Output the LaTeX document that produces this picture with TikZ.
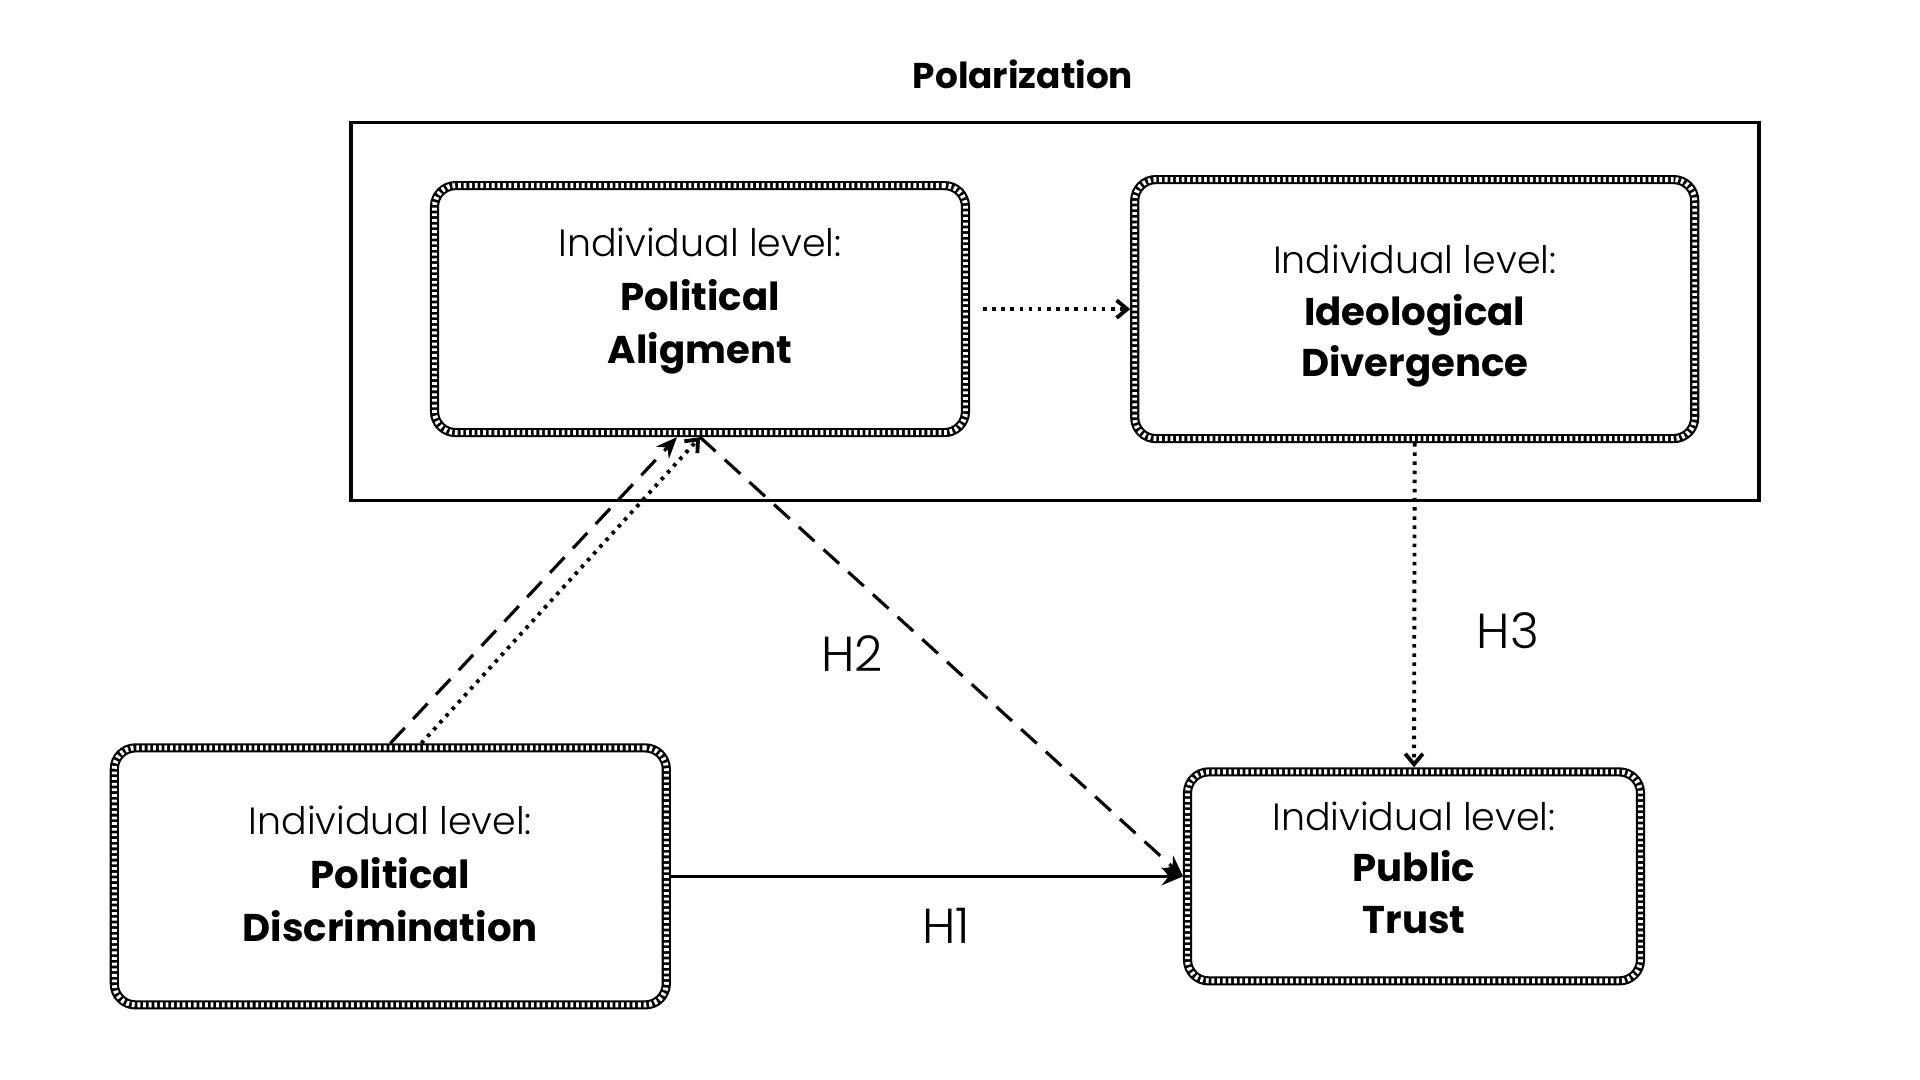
\documentclass[tikz,border=0pt]{standalone}
\usepackage{fontspec}
\setmainfont{Poppins}
\newfontfamily\lightfont{Poppins Light}
\usetikzlibrary{arrows.meta, positioning, calc}

\newcommand{\lvl}{{\lightfont\fontsize{10.8}{15.2}\selectfont Individual level:}}

\tikzset{
  ropebox/.style={rectangle, rounded corners=6pt, draw=black, line width=2.6pt,
    postaction={draw=white, line width=1.4pt, dash pattern=on 0.8pt off 0.8pt},
    inner sep=0pt},
  boxtext/.style={align=center, font=\fontsize{11}{15.2}\selectfont, inner sep=0pt},
  tighttext/.style={align=center, font=\fontsize{11}{14.7}\selectfont, inner sep=0pt},
  hlabel/.style={font=\lightfont\fontsize{14}{17}\selectfont},
  solidarrow/.style={line width=0.9pt, -{Stealth[length=6pt,width=5pt]}},
  dashedarrow/.style={line width=0.9pt, dash pattern=on 6pt off 3.5pt, -{Stealth[length=6pt,width=5pt]}},
  dottedarrow/.style={line width=1.1pt, dash pattern=on 1pt off 1.6pt, -{Straight Barb[length=3pt,width=5pt]}},
}

\begin{document}
\begin{tikzpicture}
  \useasboundingbox (0,0) rectangle (19.2,10.8);

  % polarization frame
  \node[font=\bfseries\fontsize{10.2}{12}\selectfont] (title) at (10.23,10.06) {Polarization};
  \node[draw, line width=0.9pt, minimum width=14.08cm, minimum height=3.78cm, inner sep=0pt] (frame) at (10.55,7.684) {};

  % boxes
  \node[ropebox, minimum width=5.31cm, minimum height=2.47cm] (align) at (7.00,7.709) {};
  \node[ropebox, minimum width=5.60cm, minimum height=2.59cm] (diverg) at (14.147,7.709) {};
  \node[ropebox, minimum width=5.52cm, minimum height=2.57cm] (discrim) at (3.903,2.036) {};
  \node[ropebox, minimum width=4.53cm, minimum height=2.09cm] (trust) at (14.14,2.036) {};

  % box texts
  \node[boxtext] (aligntxt) at ($(align.center)+(0,0.08)$) {\lvl\\\textbf{Political}\\\textbf{Aligment}};
  \node[tighttext] (divergtxt) at ($(diverg.center)+(0,-0.07)$) {\lvl\\\textbf{Ideological}\\\textbf{Divergence}};
  \node[boxtext] (discrimtxt) at ($(discrim.center)+(0,0.025)$) {\lvl\\\textbf{Political}\\\textbf{Discrimination}};
  \node[tighttext] (trusttxt) at ($(trust.center)+(0,0.086)$) {\lvl\\\textbf{Public}\\\textbf{Trust}};

  % paths
  \draw[dottedarrow, shorten <=0.13cm] (align.east) -- (diverg.west);
  \draw[dashedarrow] (discrim.north) -- ($(align.south)+(-0.23,0)$);
  \draw[dottedarrow] ($(discrim.north)+(0.31,0)$) -- (align.south);
  \draw[dashedarrow] (align.south) -- (trust.west);
  \draw[solidarrow] (discrim.east) -- (trust.west);
  \draw[dottedarrow] (diverg.south) -- (trust.north);

  % hypotheses
  \node[hlabel] (h1) at (9.46,1.54) {H1};
  \node[hlabel] (h2) at (8.52,4.26) {H2};
  \node[hlabel] (h3) at (15.08,4.49) {H3};
\end{tikzpicture}
\end{document}
